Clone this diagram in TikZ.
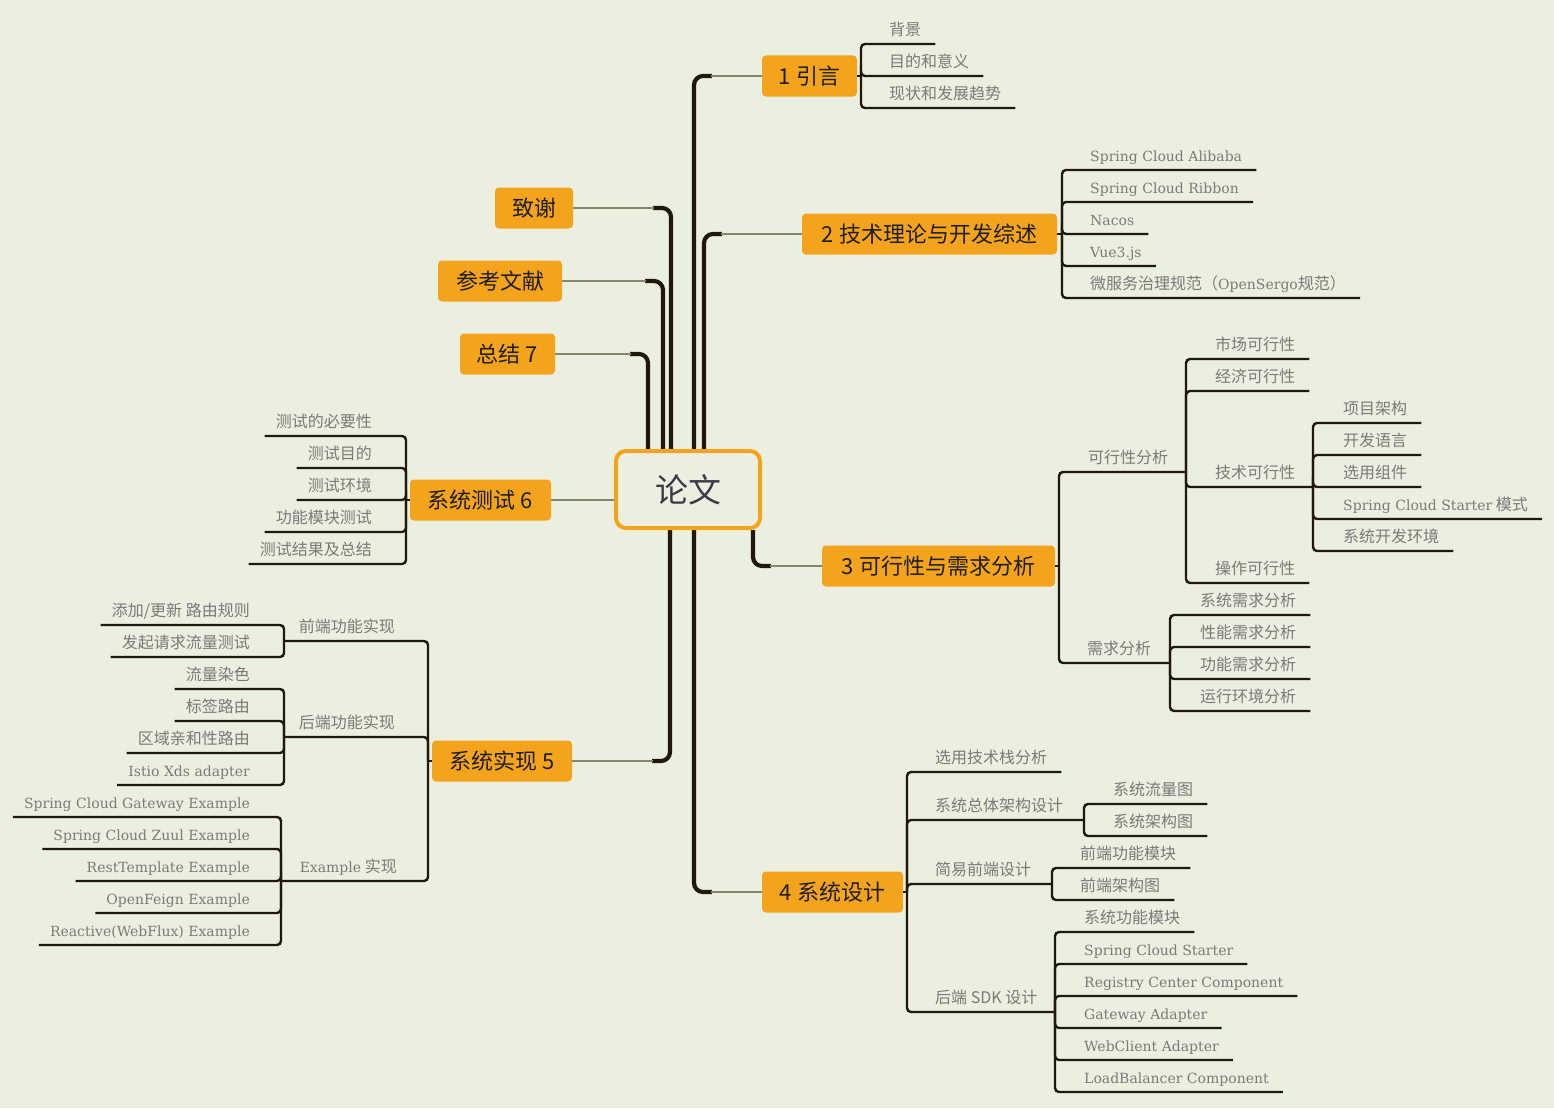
\documentclass[tikz,border=0pt]{standalone}
\usepackage{fontspec}
\newfontfamily\cjk{Noto Sans CJK SC}
\newfontfamily\slab{DejaVu Serif}
\usetikzlibrary{calc,backgrounds}
\definecolor{bg}{HTML}{EBEFDF}
\definecolor{org}{HTML}{F4A41C}
\definecolor{dk}{HTML}{20180A}
\definecolor{tw}{HTML}{86866E}
\definecolor{lg}{HTML}{7A7A7A}
\definecolor{bt}{HTML}{1E1E1E}
\definecolor{ct}{HTML}{3A3A48}
\newcommand\slb[1]{{\slab\fontsize{14}{16}\selectfont #1}}
\newcommand\RLeaf[5]{\node[lf] (#1) at (#3,#4-8.5) {#5}; \draw[br] (#2) |- ($(#1.base east)+(14,8.5)$);}
\newcommand\LLeaf[5]{\node[lf,anchor=base east] (#1) at (#3,#4-8.5) {#5}; \draw[br] (#2) |- ($(#1.base west)+(-11,8.5)$);}
\begin{document}
\begin{tikzpicture}[x=1pt,y=-1pt,
  br/.style={draw=dk, line width=2.4pt, rounded corners=4pt},
  trunk/.style={draw=dk, line width=4.2pt, rounded corners=9pt},
  twig/.style={draw=tw, line width=2pt},
  lf/.style={font=\cjk\fontsize{16}{18}\selectfont, text=lg, inner sep=0pt, anchor=base west},
  bn/.style={font=\cjk\fontsize{22}{24}\selectfont, fill=org, text=bt, rounded corners=4pt, minimum height=41pt, inner sep=0pt},
  hub/.style={draw=org, line width=4pt, fill=bg, rounded corners=10pt, minimum width=144pt, minimum height=77pt, font=\cjk\fontsize{33}{36}\selectfont, text=ct}]

% main nodes
\node[hub] (c) at (688,489.5) {论文};
\node[bn, minimum width=95pt] (n1) at (809.5,76) {1 引言};
\node[bn, minimum width=255pt] (n2) at (929.5,234) {2 技术理论与开发综述};
\node[bn, minimum width=233pt] (n3) at (938.5,566) {3 可行性与需求分析};
\node[bn, minimum width=141pt] (n4) at (832.5,892) {4 系统设计};
\node[bn, minimum width=140pt] (n5) at (502,761) {系统实现 5};
\node[bn, minimum width=141pt] (n6) at (480.5,500) {系统测试 6};
\node[bn, minimum width=95pt] (n7) at (507.5,354) {总结 7};
\node[bn, minimum width=124pt] (n8) at (500,281) {参考文献};
\node[bn, minimum width=78pt] (n9) at (534,208) {致谢};

\begin{scope}[on background layer]
\fill[bg] (0,0) rectangle (1554,1108);
\draw[trunk] ($(c.north)+(6,0)$) |- ($(n1.west)+(-50,0)$);
\draw[twig] ($(n1.west)+(-51,0)$) -- (n1.west);
\draw[trunk] ($(c.north)+(16,0)$) |- ($(n2.west)+(-80,0)$);
\draw[twig] ($(n2.west)+(-81,0)$) -- (n2.west);
\draw[trunk] ($(c.south)+(65,0)$) |- ($(n3.west)+(-51,0)$);
\draw[twig] ($(n3.west)+(-52,0)$) -- (n3.west);
\draw[trunk] ($(c.south)+(6,0)$) |- ($(n4.west)+(-50,0)$);
\draw[twig] ($(n4.west)+(-51,0)$) -- (n4.west);
\draw[trunk] ($(c.south)+(-18,0)$) |- ($(n5.east)+(80,0)$);
\draw[twig] ($(n5.east)+(81,0)$) -- (n5.east);
\draw[twig] (n6.east) -- (n6.east -| c.west);
\draw[trunk] ($(c.north)+(-40,0)$) |- ($(n7.east)+(75,0)$);
\draw[twig] ($(n7.east)+(76,0)$) -- (n7.east);
\draw[trunk] ($(c.north)+(-25,0)$) |- ($(n8.east)+(83,0)$);
\draw[twig] ($(n8.east)+(84,0)$) -- (n8.east);
\draw[trunk] ($(c.north)+(-17,0)$) |- ($(n9.east)+(80,0)$);
\draw[twig] ($(n9.east)+(81,0)$) -- (n9.east);
\end{scope}

% group 1
\coordinate (b1) at (861,76); \draw[br] (n1.east) -- (b1);
\RLeaf{a11}{b1}{889}{44}{背景}
\RLeaf{a12}{b1}{889}{76}{目的和意义}
\RLeaf{a13}{b1}{889}{108}{现状和发展趋势}

% group 2
\coordinate (b2) at (1062,234); \draw[br] (n2.east) -- (b2);
\RLeaf{a21}{b2}{1090}{170}{\slb{Spring Cloud Alibaba}}
\RLeaf{a22}{b2}{1090}{202}{\slb{Spring Cloud Ribbon}}
\RLeaf{a23}{b2}{1090}{234}{\slb{Nacos}}
\RLeaf{a24}{b2}{1090}{266}{\slb{Vue3.js}}
\RLeaf{a25}{b2}{1090}{298}{微服务治理规范（\slb{OpenSergo}规范）}

% group 3
\coordinate (b3) at (1059,566); \draw[br] (n3.east) -- (b3);
\node[lf] (s31) at (1088,472-8.5) {可行性分析};
\coordinate (b31) at (1186,472); \draw[br] (b3) |- (b31);
\RLeaf{a311}{b31}{1215}{359}{市场可行性}
\RLeaf{a312}{b31}{1215}{391}{经济可行性}
\node[lf] (s313) at (1215,487-8.5) {技术可行性};
\coordinate (b313) at (1313,487); \draw[br] (b31) |- (b313);
\RLeaf{a3131}{b313}{1343}{423}{项目架构}
\RLeaf{a3132}{b313}{1343}{455}{开发语言}
\RLeaf{a3133}{b313}{1343}{487}{选用组件}
\RLeaf{a3134}{b313}{1343}{519}{\slb{Spring Cloud Starter} 模式}
\RLeaf{a3135}{b313}{1343}{551}{系统开发环境}
\RLeaf{a314}{b31}{1215}{583}{操作可行性}
\node[lf] (s32) at (1087,663-8.5) {需求分析};
\coordinate (b32) at (1170,663); \draw[br] (b3) |- (b32);
\RLeaf{a321}{b32}{1200}{615}{系统需求分析}
\RLeaf{a322}{b32}{1200}{647}{性能需求分析}
\RLeaf{a323}{b32}{1200}{679}{功能需求分析}
\RLeaf{a324}{b32}{1200}{711}{运行环境分析}

% group 4
\coordinate (b4) at (907,892); \draw[br] (n4.east) -- (b4);
\RLeaf{s41}{b4}{935}{772}{选用技术栈分析}
\node[lf] (s42) at (935,820-8.5) {系统总体架构设计};
\coordinate (b42) at (1084,820); \draw[br] (b4) |- (b42);
\RLeaf{a421}{b42}{1113}{804}{系统流量图}
\RLeaf{a422}{b42}{1113}{836}{系统架构图}
\node[lf] (s43) at (935,884-8.5) {简易前端设计};
\coordinate (b43) at (1052,884); \draw[br] (b4) |- (b43);
\RLeaf{a431}{b43}{1080}{868}{前端功能模块}
\RLeaf{a432}{b43}{1080}{900}{前端架构图}
\node[lf] (s44) at (935,1012-8.5) {后端 SDK 设计};
\coordinate (b44) at (1055,1012); \draw[br] (b4) |- (b44);
\RLeaf{a441}{b44}{1084}{932}{系统功能模块}
\RLeaf{a442}{b44}{1084}{964}{\slb{Spring Cloud Starter}}
\RLeaf{a443}{b44}{1084}{996}{\slb{Registry Center Component}}
\RLeaf{a444}{b44}{1084}{1028}{\slb{Gateway Adapter}}
\RLeaf{a445}{b44}{1084}{1060}{\slb{WebClient Adapter}}
\RLeaf{a446}{b44}{1084}{1092}{\slb{LoadBalancer Component}}

% group 5
\coordinate (b5) at (428,761); \draw[br] (n5.west) -- (b5);
\node[lf,anchor=base east] (s51) at (395,641-8.5) {前端功能实现};
\coordinate (b51) at (284,641); \draw[br] (b5) |- (b51);
\LLeaf{a511}{b51}{250}{625}{添加/更新 路由规则}
\LLeaf{a512}{b51}{250}{657}{发起请求流量测试}
\node[lf,anchor=base east] (s52) at (395,737-8.5) {后端功能实现};
\coordinate (b52) at (284,737); \draw[br] (b5) |- (b52);
\LLeaf{a521}{b52}{250}{689}{流量染色}
\LLeaf{a522}{b52}{250}{721}{标签路由}
\LLeaf{a523}{b52}{250}{753}{区域亲和性路由}
\LLeaf{a524}{b52}{250}{785}{\slb{Istio Xds adapter}}
\node[lf,anchor=base east] (s53) at (397,881-8.5) {\slb{Example} 实现};
\coordinate (b53) at (281,881); \draw[br] (b5) |- (b53);
\LLeaf{a531}{b53}{250}{817}{\slb{Spring Cloud Gateway Example}}
\LLeaf{a532}{b53}{250}{849}{\slb{Spring Cloud Zuul Example}}
\LLeaf{a533}{b53}{250}{881}{\slb{RestTemplate Example}}
\LLeaf{a534}{b53}{250}{913}{\slb{OpenFeign Example}}
\LLeaf{a535}{b53}{250}{945}{\slb{Reactive(WebFlux) Example}}

% group 6
\coordinate (b6) at (406,500); \draw[br] (n6.west) -- (b6);
\LLeaf{a61}{b6}{372}{436}{测试的必要性}
\LLeaf{a62}{b6}{372}{468}{测试目的}
\LLeaf{a63}{b6}{372}{500}{测试环境}
\LLeaf{a64}{b6}{372}{532}{功能模块测试}
\LLeaf{a65}{b6}{372}{564}{测试结果及总结}
\end{tikzpicture}
\end{document}
